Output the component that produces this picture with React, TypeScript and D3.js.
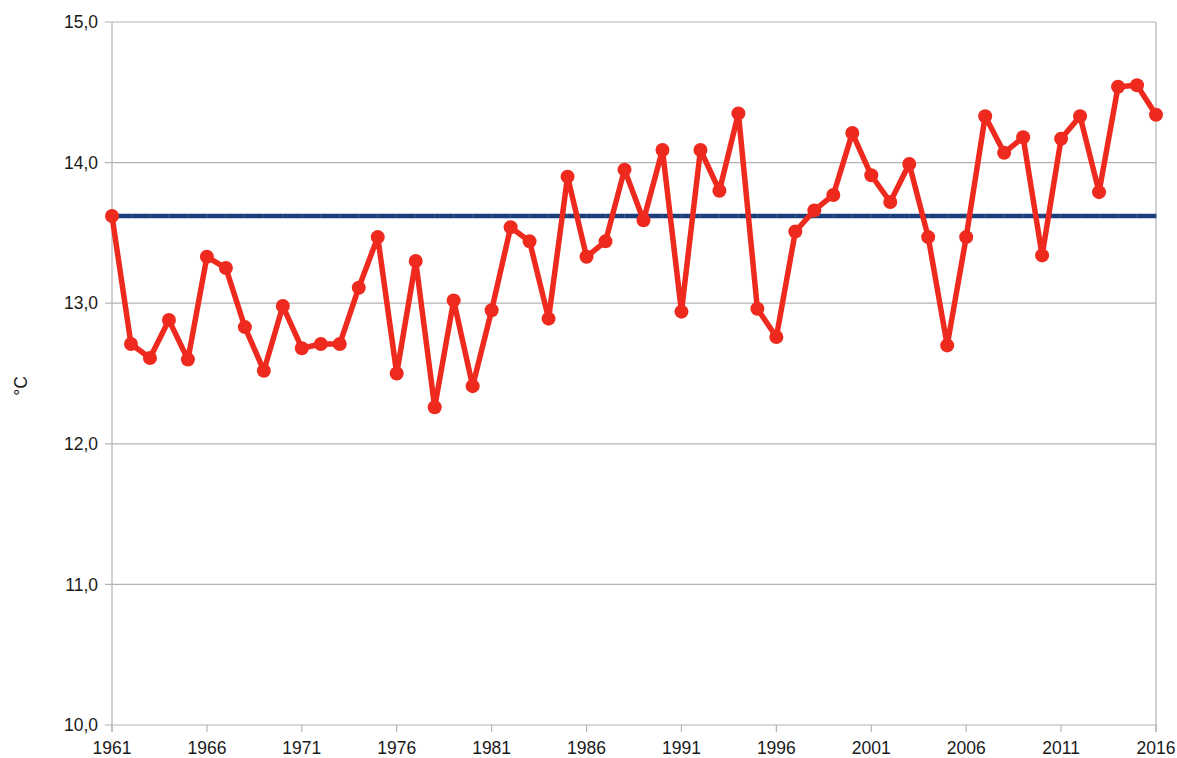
import React from "react";
import * as d3 from "d3";

const years: number[] = d3.range(1961, 2017);
const temps: number[] = [
  13.62, 12.71, 12.61, 12.88, 12.60, 13.33, 13.25, 12.83, 12.52, 12.98,
  12.68, 12.71, 12.71, 13.11, 13.47, 12.50, 13.30, 12.26, 13.02, 12.41,
  12.95, 13.54, 13.44, 12.89, 13.90, 13.33, 13.44, 13.95, 13.59, 14.09,
  12.94, 14.09, 13.80, 14.35, 12.96, 12.76, 13.51, 13.66, 13.77, 14.21,
  13.91, 13.72, 13.99, 13.47, 12.70, 13.47, 14.33, 14.07, 14.18, 13.34,
  14.17, 14.33, 13.79, 14.54, 14.55, 14.34,
];
const baseline = 13.62;
const yTicks: number[] = [10, 11, 12, 13, 14, 15];
const xTickYears: number[] = [1961, 1966, 1971, 1976, 1981, 1986, 1991, 1996, 2001, 2006, 2011, 2016];
const yLabel = "°C";

export default function App() {
  const W = 1177, H = 758;
  const left = 112, right = 1156, top = 22, bottom = 725;
  const x = d3.scaleLinear().domain([1961, 2016]).range([left, right]);
  const y = d3.scaleLinear().domain([10, 15]).range([bottom, top]);
  const line = d3.line<number>().x((_, i) => x(years[i])).y((d) => y(d));
  const font = "'Liberation Sans', Arial, sans-serif";
  const fs = 17.5;
  const fmt = (v: number) => v.toFixed(1).replace(".", ",");
  return (
    <svg width={W} height={H} style={{ position: "absolute", left: 0, top: 0, background: "#fff" }}>
      <rect width={W} height={H} fill="#fff" />
      {yTicks.map((t) => (
        <g key={t}>
          <line x1={left - 7} x2={right} y1={y(t)} y2={y(t)} stroke="#b3b3b3" strokeWidth={1.2} />
          <text x={left - 14} y={y(t)} dy="0.35em" textAnchor="end" fontFamily={font} fontSize={fs} fill="#1a1a1a">
            {fmt(t)}
          </text>
        </g>
      ))}
      <line x1={left} x2={left} y1={top} y2={bottom + 7} stroke="#b3b3b3" strokeWidth={1.2} />
      <line x1={right} x2={right} y1={top} y2={bottom + 7} stroke="#b3b3b3" strokeWidth={1.2} />
      {xTickYears.map((yr) => (
        <g key={yr}>
          <line x1={x(yr)} x2={x(yr)} y1={bottom} y2={bottom + 7} stroke="#b3b3b3" strokeWidth={1.2} />
          <text x={x(yr)} y={bottom + 29} textAnchor="middle" fontFamily={font} fontSize={fs} fill="#1a1a1a">
            {yr}
          </text>
        </g>
      ))}
      <text
        transform={`translate(27,386) rotate(-90)`}
        textAnchor="middle"
        fontFamily={font}
        fontSize={fs}
        fill="#1a1a1a"
      >
        {yLabel}
      </text>
      <line x1={x(1961)} x2={x(2016)} y1={y(baseline)} y2={y(baseline)} stroke="#1c3f7c" strokeWidth={4.5} />
      {years.map((yr) => (
        <line key={yr} x1={x(yr)} x2={x(yr)} y1={y(baseline) - 2} y2={y(baseline) + 2} stroke="#3a5a90" strokeWidth={1} />
      ))}
      <path d={line(temps) || ""} fill="none" stroke="#ee2a1f" strokeWidth={5.5} strokeLinejoin="round" />
      {temps.map((t, i) => (
        <circle key={i} cx={x(years[i])} cy={y(t)} r={7} fill="#ee2a1f" />
      ))}
    </svg>
  );
}
